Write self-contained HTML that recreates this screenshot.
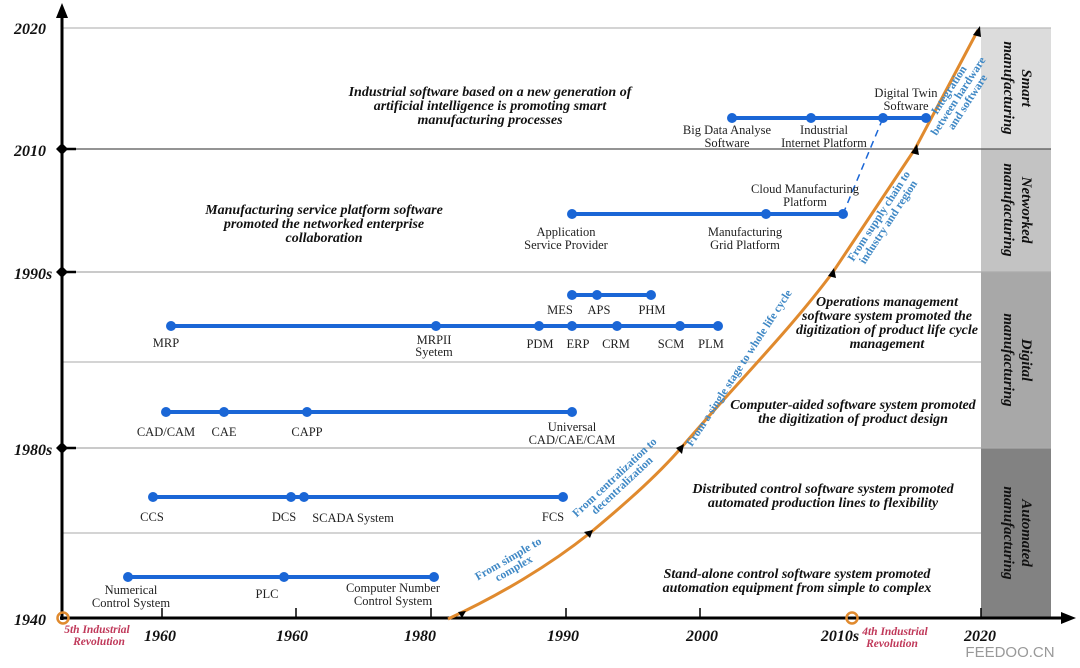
<!DOCTYPE html>
<html><head><meta charset="utf-8"><style>
html,body{margin:0;padding:0;background:#fff;}
svg{display:block;}
.y{font:bold italic 16px "Liberation Serif",serif;fill:#111;}
.x{font:bold italic 16px "Liberation Serif",serif;fill:#111;text-anchor:middle;}
.d{font:bold italic 14px "Liberation Serif",serif;fill:#111;text-anchor:middle;}
.l{font:12.5px "Liberation Serif",serif;fill:#222;text-anchor:middle;}
.b{font:bold 11.5px "Liberation Serif",serif;fill:#3f88c5;text-anchor:middle;}
.r{font:bold italic 11.5px "Liberation Serif",serif;fill:#c0395a;text-anchor:middle;}
.v{font:bold italic 15px "Liberation Serif",serif;fill:#111;text-anchor:middle;}
</style></head><body>
<svg width="1080" height="668" viewBox="0 0 1080 668" xmlns="http://www.w3.org/2000/svg">
<rect x="981" y="28" width="70" height="121" fill="#dcdcdc"/>
<rect x="981" y="149" width="70" height="123" fill="#c3c3c3"/>
<rect x="981" y="272" width="70" height="176" fill="#a8a8a8"/>
<rect x="981" y="448" width="70" height="170" fill="#828282"/>
<g stroke-width="1.2">
<line x1="62" y1="28" x2="1051" y2="28" stroke="#bbb"/>
<line x1="62" y1="149" x2="1051" y2="149" stroke="#555"/>
<line x1="62" y1="272" x2="1051" y2="272" stroke="#aaa"/>
<line x1="62" y1="362" x2="981" y2="362" stroke="#bbb"/>
<line x1="62" y1="448" x2="1051" y2="448" stroke="#aaa"/>
<line x1="62" y1="533" x2="981" y2="533" stroke="#bbb"/>
</g>
<line x1="62" y1="620" x2="62" y2="14" stroke="#000" stroke-width="3"/>
<polygon points="62,3 56,18 68,18" fill="#000"/>
<line x1="60" y1="618" x2="1062" y2="618" stroke="#000" stroke-width="3"/>
<polygon points="1076,618 1061,612 1061,624" fill="#000"/>
<g fill="#000">
<polygon points="62,143 68,149 62,155 56,149"/><line x1="62" y1="149" x2="76" y2="149" stroke="#000" stroke-width="2.5"/>
<polygon points="62,266 68,272 62,278 56,272"/><line x1="62" y1="272" x2="76" y2="272" stroke="#000" stroke-width="2.5"/>
<polygon points="62,442 68,448 62,454 56,448"/><line x1="62" y1="448" x2="76" y2="448" stroke="#000" stroke-width="2.5"/>
</g>
<g stroke="#000" stroke-width="1.5">
<line x1="162" y1="608" x2="162" y2="618"/><line x1="296" y1="608" x2="296" y2="618"/><line x1="431" y1="608" x2="431" y2="618"/>
<line x1="566" y1="608" x2="566" y2="618"/><line x1="700" y1="608" x2="700" y2="618"/><line x1="981" y1="608" x2="981" y2="618"/>
</g>
<text class="y" x="14" y="34">2020</text>
<text class="y" x="14" y="156">2010</text>
<text class="y" x="14" y="279">1990s</text>
<text class="y" x="14" y="455">1980s</text>
<text class="y" x="14" y="625">1940</text>
<text class="x" x="160" y="641">1960</text>
<text class="x" x="292" y="641">1960</text>
<text class="x" x="420" y="641">1980</text>
<text class="x" x="563" y="641">1990</text>
<text class="x" x="702" y="641">2000</text>
<text class="x" x="840" y="641">2010s</text>
<text class="x" x="980" y="641">2020</text>
<circle cx="63" cy="618" r="5.5" fill="none" stroke="#e08a2e" stroke-width="2.5"/>
<circle cx="852" cy="618" r="5.5" fill="none" stroke="#e08a2e" stroke-width="2.5"/>
<text class="r" x="97" y="633">5th Industrial</text>
<text class="r" x="99" y="645">Revolution</text>
<text class="r" x="895" y="635">4th Industrial</text>
<text class="r" x="892" y="647">Revolution</text>
<path d="M448,619 C500,595 550,565 590,533 C620,508 655,478 681,448 C735,385 790,330 833,272 L915,149 L978,30" fill="none" stroke="#e08a2e" stroke-width="3"/>
<g fill="#000">
<polygon points="466,611 458,612 462,618"/>
<polygon points="593,530 584,532 590,538"/>
<polygon points="684,444 676,448 682,454"/>
<polygon points="834,268 828,276 836,278"/>
<polygon points="917,144 911,153 919,155"/>
<polygon points="980,26 973,35 981,37"/>
</g>
<text class="b" transform="translate(510,562) rotate(-30)"><tspan x="0" y="0">From simple to</tspan><tspan x="0" y="11">complex</tspan></text>
<text class="b" transform="translate(617,480) rotate(-43)"><tspan x="0" y="0">From centralization to</tspan><tspan x="0" y="11">decentralization</tspan></text>
<text class="b" transform="translate(742,370) rotate(-57)">From a single stage to whole life cycle</text>
<text class="b" transform="translate(882,218) rotate(-57)"><tspan x="0" y="0">From supply chain to</tspan><tspan x="0" y="11">industry and region</tspan></text>
<text class="b" transform="translate(952,92) rotate(-57)"><tspan x="0" y="0">Integration</tspan><tspan x="0" y="11">between hardware</tspan><tspan x="0" y="22">and software</tspan></text>
<line x1="843" y1="214" x2="883" y2="118" stroke="#1a66d6" stroke-width="1.5" stroke-dasharray="7,5"/>
<g stroke="#1a66d6" stroke-width="4">
<line x1="732" y1="118" x2="926" y2="118"/>
<line x1="572" y1="214" x2="843" y2="214"/>
<line x1="572" y1="295" x2="651" y2="295"/>
<line x1="171" y1="326" x2="718" y2="326"/>
<line x1="166" y1="412" x2="572" y2="412"/>
<line x1="153" y1="497" x2="563" y2="497"/>
<line x1="128" y1="577" x2="434" y2="577"/>
</g>
<g fill="#1a66d6">
<circle cx="732" cy="118" r="5"/><circle cx="811" cy="118" r="5"/><circle cx="883" cy="118" r="5"/><circle cx="926" cy="118" r="5"/>
<circle cx="572" cy="214" r="5"/><circle cx="766" cy="214" r="5"/><circle cx="843" cy="214" r="5"/>
<circle cx="572" cy="295" r="5"/><circle cx="597" cy="295" r="5"/><circle cx="651" cy="295" r="5"/>
<circle cx="171" cy="326" r="5"/><circle cx="436" cy="326" r="5"/><circle cx="539" cy="326" r="5"/><circle cx="572" cy="326" r="5"/><circle cx="617" cy="326" r="5"/><circle cx="680" cy="326" r="5"/><circle cx="718" cy="326" r="5"/>
<circle cx="166" cy="412" r="5"/><circle cx="224" cy="412" r="5"/><circle cx="307" cy="412" r="5"/><circle cx="572" cy="412" r="5"/>
<circle cx="153" cy="497" r="5"/><circle cx="291" cy="497" r="5"/><circle cx="304" cy="497" r="5"/><circle cx="563" cy="497" r="5"/>
<circle cx="128" cy="577" r="5"/><circle cx="284" cy="577" r="5"/><circle cx="434" cy="577" r="5"/>
</g>
<text class="l" x="727" y="134">Big Data Analyse</text><text class="l" x="727" y="147">Software</text>
<text class="l" x="824" y="134">Industrial</text><text class="l" x="824" y="147">Internet Platform</text>
<text class="l" x="906" y="97">Digital Twin</text><text class="l" x="906" y="110">Software</text>
<text class="l" x="566" y="236">Application</text><text class="l" x="566" y="249">Service Provider</text>
<text class="l" x="745" y="236">Manufacturing</text><text class="l" x="745" y="249">Grid Platform</text>
<text class="l" x="805" y="193">Cloud Manufacturing</text><text class="l" x="805" y="206">Platform</text>
<text class="l" x="560" y="314">MES</text><text class="l" x="599" y="314">APS</text><text class="l" x="652" y="314">PHM</text>
<text class="l" x="166" y="347">MRP</text>
<text class="l" x="434" y="344">MRPII</text><text class="l" x="434" y="356">Syetem</text>
<text class="l" x="540" y="348">PDM</text><text class="l" x="578" y="348">ERP</text><text class="l" x="616" y="348">CRM</text><text class="l" x="671" y="348">SCM</text><text class="l" x="711" y="348">PLM</text>
<text class="l" x="166" y="436">CAD/CAM</text><text class="l" x="224" y="436">CAE</text><text class="l" x="307" y="436">CAPP</text>
<text class="l" x="572" y="431">Universal</text><text class="l" x="572" y="444">CAD/CAE/CAM</text>
<text class="l" x="152" y="521">CCS</text><text class="l" x="284" y="521">DCS</text><text class="l" x="353" y="522">SCADA System</text><text class="l" x="553" y="521">FCS</text>
<text class="l" x="131" y="594">Numerical</text><text class="l" x="131" y="607">Control System</text>
<text class="l" x="267" y="598">PLC</text>
<text class="l" x="393" y="592">Computer Number</text><text class="l" x="393" y="605">Control System</text>
<text class="d" x="490" y="96">Industrial software based on a new generation of</text>
<text class="d" x="490" y="110">artificial intelligence is promoting smart</text>
<text class="d" x="490" y="124">manufacturing processes</text>
<text class="d" x="324" y="214">Manufacturing service platform software</text>
<text class="d" x="324" y="228">promoted the networked enterprise</text>
<text class="d" x="324" y="242">collaboration</text>
<text class="d" x="887" y="306">Operations management</text>
<text class="d" x="887" y="320">software system promoted the</text>
<text class="d" x="887" y="334">digitization of product life cycle</text>
<text class="d" x="887" y="348">management</text>
<text class="d" x="853" y="409">Computer-aided software system promoted</text>
<text class="d" x="853" y="423">the digitization of product design</text>
<text class="d" x="823" y="493">Distributed control software system promoted</text>
<text class="d" x="823" y="507">automated production lines to flexibility</text>
<text class="d" x="797" y="578">Stand-alone control software system promoted</text>
<text class="d" x="797" y="592">automation equipment from simple to complex</text>
<text class="v" transform="translate(1016,88) rotate(90)"><tspan x="0" y="-6">Smart</tspan><tspan x="0" y="12">manufacturing</tspan></text>
<text class="v" transform="translate(1016,210) rotate(90)"><tspan x="0" y="-6">Networked</tspan><tspan x="0" y="12">manufacturing</tspan></text>
<text class="v" transform="translate(1016,360) rotate(90)"><tspan x="0" y="-6">Digital</tspan><tspan x="0" y="12">manufacturing</tspan></text>
<text class="v" transform="translate(1016,533) rotate(90)"><tspan x="0" y="-6">Automated</tspan><tspan x="0" y="12">manufacturing</tspan></text>
<text x="1010" y="657" style="font:15px 'Liberation Sans',sans-serif;fill:#999;text-anchor:middle;">FEEDOO.CN</text>
</svg>
</body></html>
